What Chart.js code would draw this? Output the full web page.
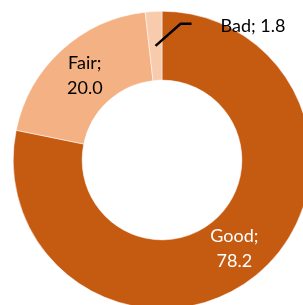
<!DOCTYPE html>
<html>
<head>
<meta charset="utf-8">
<script src="https://cdn.jsdelivr.net/npm/chart.js@4"></script>
<style>
  html, body { margin: 0; padding: 0; background: #fff; overflow: hidden; }
  body { width: 303px; height: 305px; position: relative; }
  #wrap { position: absolute; left: 13px; top: 11px; width: 298px; height: 298px; }
</style>
</head>
<body>
<div id="wrap"><canvas id="donut" width="298" height="298"></canvas></div>
<script>
const categories = ['Good', 'Fair', 'Bad'];
const values = [78.2, 20.0, 1.8];
const colors = ['#C55A11', '#F4B183', '#F8CBAD'];
const labelColors = ['#FFFFFF', '#000000', '#000000'];

const fontFamily = 'Lato, "Open Sans", sans-serif';

// draws "Name; value" labels like the office chart does
const sliceLabels = {
    id: 'sliceLabels',
    afterDatasetsDraw(chart) {
        const ctx = chart.ctx;
        const arcs = chart.getDatasetMeta(0).data;
        ctx.save();
        ctx.font = '18px ' + fontFamily;
        ctx.textBaseline = 'middle';
        arcs.forEach((arc, i) => {
            const p = arc.getProps(['x', 'y', 'startAngle', 'endAngle', 'innerRadius', 'outerRadius'], true);
            const mid = (p.startAngle + p.endAngle) / 2;
            const r = (p.innerRadius + p.outerRadius) / 2;
            const cx = p.x + Math.cos(mid) * r;
            const cy = p.y + Math.sin(mid) * r;
            const val = values[i].toFixed(1);
            if (values[i] < 5) {
                // small slice: label outside with a leader line
                ctx.strokeStyle = '#000';
                ctx.lineWidth = 2.5;
                ctx.beginPath();
                ctx.moveTo(cx, cy);
                ctx.lineTo(cx + 25, cy - 22);
                ctx.lineTo(cx + 36, cy - 22);
                ctx.stroke();
                ctx.fillStyle = labelColors[i];
                ctx.textAlign = 'left';
                ctx.fillText(categories[i] + '; ' + val, cx + 65, cy - 20);
            } else {
                ctx.fillStyle = labelColors[i];
                ctx.textAlign = 'center';
                ctx.fillText(categories[i] + ';', cx, cy - 12.5);
                ctx.fillText(val, cx, cy + 12.5);
            }
        });
        ctx.restore();
    }
};

new Chart(document.getElementById('donut').getContext('2d'), {
    type: 'doughnut',
    data: {
        labels: categories,
        datasets: [{
            data: values,
            backgroundColor: colors,
            borderColor: '#FFFFFF',
            borderWidth: 0.5,
        }],
    },
    options: {
        responsive: false,
        animation: false,
        cutout: '53.7%',
        layout: { padding: 0 },
        plugins: {
            legend: { display: false },
            tooltip: { enabled: false },
        },
    },
    plugins: [sliceLabels],
});
</script>
</body>
</html>
